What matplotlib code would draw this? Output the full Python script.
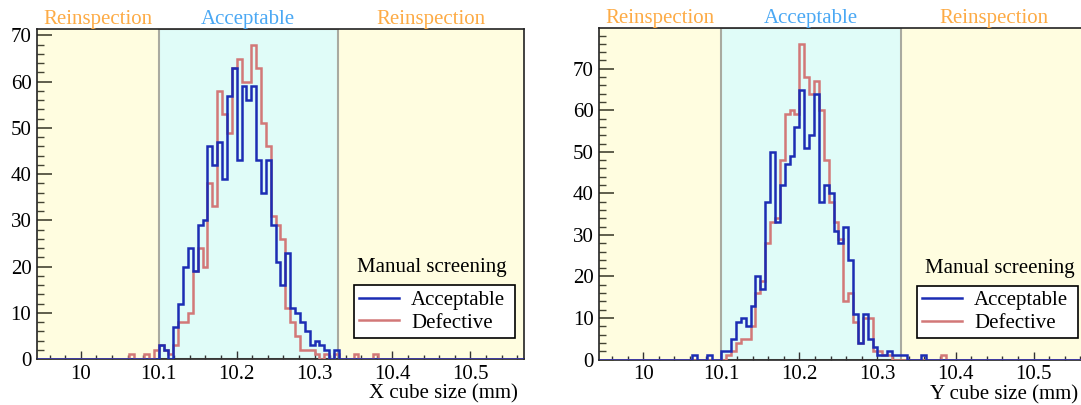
import numpy as np
import matplotlib.pyplot as plt
import matplotlib.transforms as mtransforms
from matplotlib.lines import Line2D
from matplotlib.ticker import FixedLocator, MultipleLocator

# ---- data: counts per bin (100 bins of 0.00625 mm), listed from bin 18 to bin 71
N_BINS = 100
X_MIN, X_MAX = 9.94375, 10.56875
FIRST = 18

x_acceptable = [0, 0, 0, 0, 0, 0, 0, 3, 2, 0, 7, 12, 20, 24, 19, 29, 30, 46, 42, 47,
                39, 57, 63, 43, 59, 56, 59, 43, 36, 43, 29, 21, 16, 23, 11, 10, 8, 6, 3, 4,
                3, 2, 0, 2, 0, 0, 0, 0, 0, 0, 0, 0, 0, 0]
x_defective = [0, 1, 0, 0, 1, 0, 2, 3, 2, 1, 3, 8, 8, 10, 19, 24, 20, 38, 33, 58,
               53, 49, 63, 65, 60, 60, 68, 63, 51, 46, 31, 29, 26, 11, 8, 5, 2, 2, 2, 1,
               0, 1, 0, 1, 0, 0, 0, 1, 0, 0, 0, 1, 0, 0]
y_acceptable = [0, 1, 0, 0, 1, 0, 0, 2, 2, 5, 9, 10, 8, 13, 20, 17, 38, 50, 33, 42,
                47, 49, 56, 65, 51, 54, 64, 38, 42, 40, 31, 28, 32, 24, 11, 4, 11, 5, 3, 1,
                1, 2, 1, 1, 1, 0, 0, 0, 1, 0, 0, 0, 0, 0]
y_defective = [0, 0, 0, 0, 0, 0, 0, 0, 1, 2, 4, 5, 5, 8, 16, 19, 28, 33, 34, 48,
               59, 60, 59, 76, 68, 64, 67, 60, 48, 38, 33, 29, 14, 16, 9, 4, 10, 10, 2, 2,
               1, 1, 0, 0, 0, 0, 0, 0, 0, 0, 0, 0, 1, 0]

ACC_LOW, ACC_HIGH = 10.1, 10.33
x_ticks = [10.0, 10.1, 10.2, 10.3, 10.4, 10.5]
x_tick_labels = ['10', '10.1', '10.2', '10.3', '10.4', '10.5']

# ---- style
plt.rcParams['font.family'] = ['Liberation Serif', 'DejaVu Serif']
COL_ACC = '#1c2db4'
COL_DEF = '#d27878'
COL_YEL = '#fffde0'
COL_CYAN = '#e0fcf8'
COL_EDGE = '#a9aaa0'
COL_ORANGE = '#fdab45'
COL_SKY = '#4aa8f4'


def full(counts):
    arr = np.zeros(N_BINS)
    arr[FIRST:FIRST + len(counts)] = counts
    return arr


edges = np.linspace(X_MIN, X_MAX, N_BINS + 1)

fig = plt.figure(figsize=(10.81, 4.05), dpi=100)
ax_x = fig.add_axes([0.0342, 0.1136, 0.4505, 0.8148])
ax_y = fig.add_axes([0.5544, 0.1123, 0.4514, 0.8185])

panels = [
    (ax_x, x_acceptable, x_defective, 'X cube size (mm)', 0.988, 0.811),
    (ax_y, y_acceptable, y_defective, 'Y cube size (mm)', 0.981, 0.821),
]

for ax, acc, dfc, xlabel, xlab_pos, leg_x in panels:
    acc = full(acc)
    dfc = full(dfc)
    ymax = max(acc.max(), dfc.max()) * 1.05

    # screening regions
    ax.axvspan(X_MIN, ACC_LOW, color=COL_YEL, zorder=0)
    ax.axvspan(ACC_HIGH, X_MAX, color=COL_YEL, zorder=0)
    ax.axvspan(ACC_LOW, ACC_HIGH, facecolor=COL_CYAN, edgecolor=COL_EDGE,
               linewidth=1.5, zorder=0.5)

    ax.stairs(dfc, edges, color=COL_DEF, linewidth=1.8, baseline=None, zorder=2)
    ax.stairs(acc, edges, color=COL_ACC, linewidth=1.8, baseline=None, zorder=3)

    ax.set_xlim(X_MIN, X_MAX)
    ax.set_ylim(0, ymax)

    ax.xaxis.set_major_locator(FixedLocator(x_ticks))
    ax.set_xticklabels(x_tick_labels)
    ax.xaxis.set_minor_locator(MultipleLocator(0.02))
    ax.yaxis.set_major_locator(MultipleLocator(10))
    ax.yaxis.set_minor_locator(MultipleLocator(2))
    ax.tick_params(axis='x', which='major', direction='in', length=6, width=1,
                   color='#333333', labelsize=15, pad=4)
    ax.tick_params(axis='x', which='minor', direction='in', length=3, width=1,
                   color='#333333')
    ax.tick_params(axis='y', which='major', direction='in', length=11, width=1.2,
                   color='#444433', labelsize=15, pad=4)
    ax.tick_params(axis='y', which='minor', direction='in', length=5, width=1,
                   color='#444433')
    for sp in ax.spines.values():
        sp.set_linewidth(1.2)
        sp.set_color('#222222')
    ax.spines['bottom'].set_zorder(1)

    # region names above the frame
    trans = mtransforms.blended_transform_factory(ax.transData, ax.transAxes)
    ax.text((X_MIN + ACC_LOW) / 2, 1.015, 'Reinspection', transform=trans,
            ha='center', va='baseline', fontsize=15, color=COL_ORANGE)
    ax.text((ACC_LOW + ACC_HIGH) / 2, 1.015, 'Acceptable', transform=trans,
            ha='center', va='baseline', fontsize=15, color=COL_SKY)
    ax.text((ACC_HIGH + X_MAX) / 2, 1.015, 'Reinspection', transform=trans,
            ha='center', va='baseline', fontsize=15, color=COL_ORANGE)

    ax.text(xlab_pos, -0.121, xlabel, transform=ax.transAxes,
            ha='right', va='baseline', fontsize=15)

    # legend
    handles = [Line2D([], [], color=COL_ACC, linewidth=1.8),
               Line2D([], [], color=COL_DEF, linewidth=1.8)]
    leg = ax.legend(handles, ['Acceptable', 'Defective'], loc='lower left',
                    bbox_to_anchor=(0.651, 0.064, 0.331, 0.166), mode='expand',
                    fancybox=False, framealpha=1, edgecolor='black', fontsize=15,
                    handlelength=1.9, handletextpad=0.6, borderpad=0.25,
                    labelspacing=0.15, borderaxespad=0)
    leg.get_frame().set_linewidth(1.2)
    ax.text(leg_x, 0.276, 'Manual screening', transform=ax.transAxes,
            ha='center', va='center', fontsize=15)

fig.savefig('out.png', dpi=100)
